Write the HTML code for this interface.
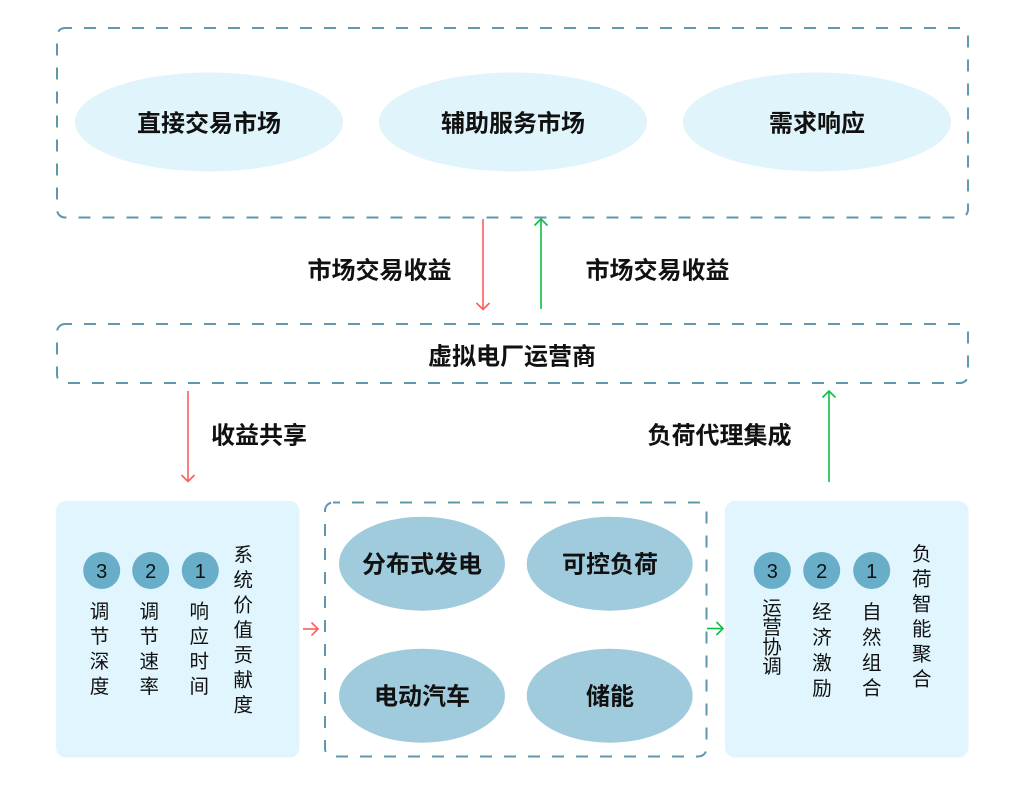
<!DOCTYPE html>
<html><head><meta charset="utf-8"><style>
html,body{margin:0;padding:0;background:#fff;}
svg{display:block;}
text{font-family:"Liberation Sans","Noto Sans CJK SC",sans-serif;fill:#111;}
.b{font-weight:700;font-size:24px;}
.s{font-size:19.5px;}
.n{font-size:20px;}
</style></head><body>
<svg width="1024" height="796" viewBox="0 0 1024 796" xmlns="http://www.w3.org/2000/svg">
<!-- top dashed box -->
<rect x="57" y="28" width="911" height="189.5" rx="8" fill="none" stroke="#5e98ad" stroke-width="2" stroke-dasharray="12 12" stroke-dashoffset="5"/>
<ellipse cx="209" cy="122" rx="134" ry="49.5" fill="#e0f4fc"/>
<ellipse cx="513" cy="122" rx="134" ry="49.5" fill="#e0f4fc"/>
<ellipse cx="817" cy="122" rx="134" ry="49.5" fill="#e0f4fc"/>
<text class="b" x="209" y="124" text-anchor="middle" dominant-baseline="central">直接交易市场</text>
<text class="b" x="513" y="124" text-anchor="middle" dominant-baseline="central">辅助服务市场</text>
<text class="b" x="817" y="124" text-anchor="middle" dominant-baseline="central">需求响应</text>

<!-- arrows -->
<g fill="none" stroke="#ff5c5c" stroke-width="1.6">
<line x1="483" y1="219" x2="483" y2="309"/>
<polyline points="476.5,303 483,309.5 489.5,303"/>
<line x1="188" y1="391" x2="188" y2="481"/>
<polyline points="181.5,475 188,481.5 194.5,475"/>
<line x1="303" y1="629" x2="317.5" y2="629"/>
<polyline points="311.5,622.5 318,629 311.5,635.5"/>
</g>
<g fill="none" stroke="#0cc047" stroke-width="1.6">
<line x1="541" y1="309" x2="541" y2="219"/>
<polyline points="534.5,225.5 541,219 547.5,225.5"/>
<line x1="829" y1="482" x2="829" y2="391"/>
<polyline points="822.5,397.5 829,391 835.5,397.5"/>
<line x1="707" y1="628.5" x2="722.5" y2="628.5"/>
<polyline points="716.5,622 723,628.5 716.5,635"/>
</g>
<text class="b" x="379.5" y="271" text-anchor="middle" dominant-baseline="central">市场交易收益</text>
<text class="b" x="657.5" y="271" text-anchor="middle" dominant-baseline="central">市场交易收益</text>

<!-- middle dashed box -->
<rect x="57" y="324" width="911" height="59" rx="8" fill="none" stroke="#5e98ad" stroke-width="2" stroke-dasharray="12 12" stroke-dashoffset="5"/>
<text class="b" x="512" y="357" text-anchor="middle" dominant-baseline="central">虚拟电厂运营商</text>

<text class="b" x="259" y="436" text-anchor="middle" dominant-baseline="central">收益共享</text>
<text class="b" x="719.5" y="436" text-anchor="middle" dominant-baseline="central">负荷代理集成</text>

<!-- left box -->
<rect x="56" y="501" width="243.5" height="256.5" rx="10" fill="#e0f5fd"/>
<circle cx="101.7" cy="570.5" r="18.5" fill="#68aec9"/>
<circle cx="150.7" cy="570.5" r="18.5" fill="#68aec9"/>
<circle cx="200.3" cy="570.5" r="18.5" fill="#68aec9"/>
<text class="n" x="101.7" y="578" text-anchor="middle">3</text>
<text class="n" x="150.7" y="578" text-anchor="middle">2</text>
<text class="n" x="200.3" y="578" text-anchor="middle">1</text>
<text class="s" x="99.5" y="612" text-anchor="middle" dominant-baseline="central">调</text>
<text class="s" x="99.5" y="637" text-anchor="middle" dominant-baseline="central">节</text>
<text class="s" x="99.5" y="662" text-anchor="middle" dominant-baseline="central">深</text>
<text class="s" x="99.5" y="687" text-anchor="middle" dominant-baseline="central">度</text>
<text class="s" x="149.2" y="612" text-anchor="middle" dominant-baseline="central">调</text>
<text class="s" x="149.2" y="637" text-anchor="middle" dominant-baseline="central">节</text>
<text class="s" x="149.2" y="662" text-anchor="middle" dominant-baseline="central">速</text>
<text class="s" x="149.2" y="687" text-anchor="middle" dominant-baseline="central">率</text>
<text class="s" x="199.2" y="612" text-anchor="middle" dominant-baseline="central">响</text>
<text class="s" x="199.2" y="637" text-anchor="middle" dominant-baseline="central">应</text>
<text class="s" x="199.2" y="662" text-anchor="middle" dominant-baseline="central">时</text>
<text class="s" x="199.2" y="687" text-anchor="middle" dominant-baseline="central">间</text>
<text class="s" x="243.3" y="555.5" text-anchor="middle" dominant-baseline="central">系</text>
<text class="s" x="243.3" y="580.5" text-anchor="middle" dominant-baseline="central">统</text>
<text class="s" x="243.3" y="605.5" text-anchor="middle" dominant-baseline="central">价</text>
<text class="s" x="243.3" y="630.5" text-anchor="middle" dominant-baseline="central">值</text>
<text class="s" x="243.3" y="655.5" text-anchor="middle" dominant-baseline="central">贡</text>
<text class="s" x="243.3" y="680.5" text-anchor="middle" dominant-baseline="central">献</text>
<text class="s" x="243.3" y="705.5" text-anchor="middle" dominant-baseline="central">度</text>

<!-- middle bottom dashed box -->
<rect x="325" y="502.5" width="381.5" height="254" rx="8" fill="none" stroke="#5e98ad" stroke-width="2" stroke-dasharray="12 12" stroke-dashoffset="5"/>
<ellipse cx="422" cy="563.7" rx="83" ry="47" fill="#9fcbdd"/>
<ellipse cx="609.7" cy="563.7" rx="83" ry="47" fill="#9fcbdd"/>
<ellipse cx="422" cy="695.7" rx="83" ry="47" fill="#9fcbdd"/>
<ellipse cx="609.7" cy="695.7" rx="83" ry="47" fill="#9fcbdd"/>
<text class="b" x="422" y="565" text-anchor="middle" dominant-baseline="central">分布式发电</text>
<text class="b" x="610" y="565" text-anchor="middle" dominant-baseline="central">可控负荷</text>
<text class="b" x="422" y="697" text-anchor="middle" dominant-baseline="central">电动汽车</text>
<text class="b" x="610" y="697" text-anchor="middle" dominant-baseline="central">储能</text>

<!-- right box -->
<rect x="725" y="501" width="243.5" height="256.5" rx="10" fill="#e0f5fd"/>
<circle cx="772.3" cy="570.5" r="18.5" fill="#68aec9"/>
<circle cx="821.7" cy="570.5" r="18.5" fill="#68aec9"/>
<circle cx="871.7" cy="570.5" r="18.5" fill="#68aec9"/>
<text class="n" x="772.3" y="578" text-anchor="middle">3</text>
<text class="n" x="821.7" y="578" text-anchor="middle">2</text>
<text class="n" x="871.7" y="578" text-anchor="middle">1</text>
<text class="s" x="772" y="608.5" text-anchor="middle" dominant-baseline="central">运</text>
<text class="s" x="772" y="628" text-anchor="middle" dominant-baseline="central">营</text>
<text class="s" x="772" y="647.5" text-anchor="middle" dominant-baseline="central">协</text>
<text class="s" x="772" y="667" text-anchor="middle" dominant-baseline="central">调</text>
<text class="s" x="822" y="612.5" text-anchor="middle" dominant-baseline="central">经</text>
<text class="s" x="822" y="638" text-anchor="middle" dominant-baseline="central">济</text>
<text class="s" x="822" y="663.5" text-anchor="middle" dominant-baseline="central">激</text>
<text class="s" x="822" y="689" text-anchor="middle" dominant-baseline="central">励</text>
<text class="s" x="871.7" y="612.5" text-anchor="middle" dominant-baseline="central">自</text>
<text class="s" x="871.7" y="638" text-anchor="middle" dominant-baseline="central">然</text>
<text class="s" x="871.7" y="663.5" text-anchor="middle" dominant-baseline="central">组</text>
<text class="s" x="871.7" y="688.5" text-anchor="middle" dominant-baseline="central">合</text>
<text class="s" x="921.7" y="554.5" text-anchor="middle" dominant-baseline="central">负</text>
<text class="s" x="921.7" y="579.5" text-anchor="middle" dominant-baseline="central">荷</text>
<text class="s" x="921.7" y="604.5" text-anchor="middle" dominant-baseline="central">智</text>
<text class="s" x="921.7" y="629.5" text-anchor="middle" dominant-baseline="central">能</text>
<text class="s" x="921.7" y="654.5" text-anchor="middle" dominant-baseline="central">聚</text>
<text class="s" x="921.7" y="679.5" text-anchor="middle" dominant-baseline="central">合</text>
</svg>
</body></html>
